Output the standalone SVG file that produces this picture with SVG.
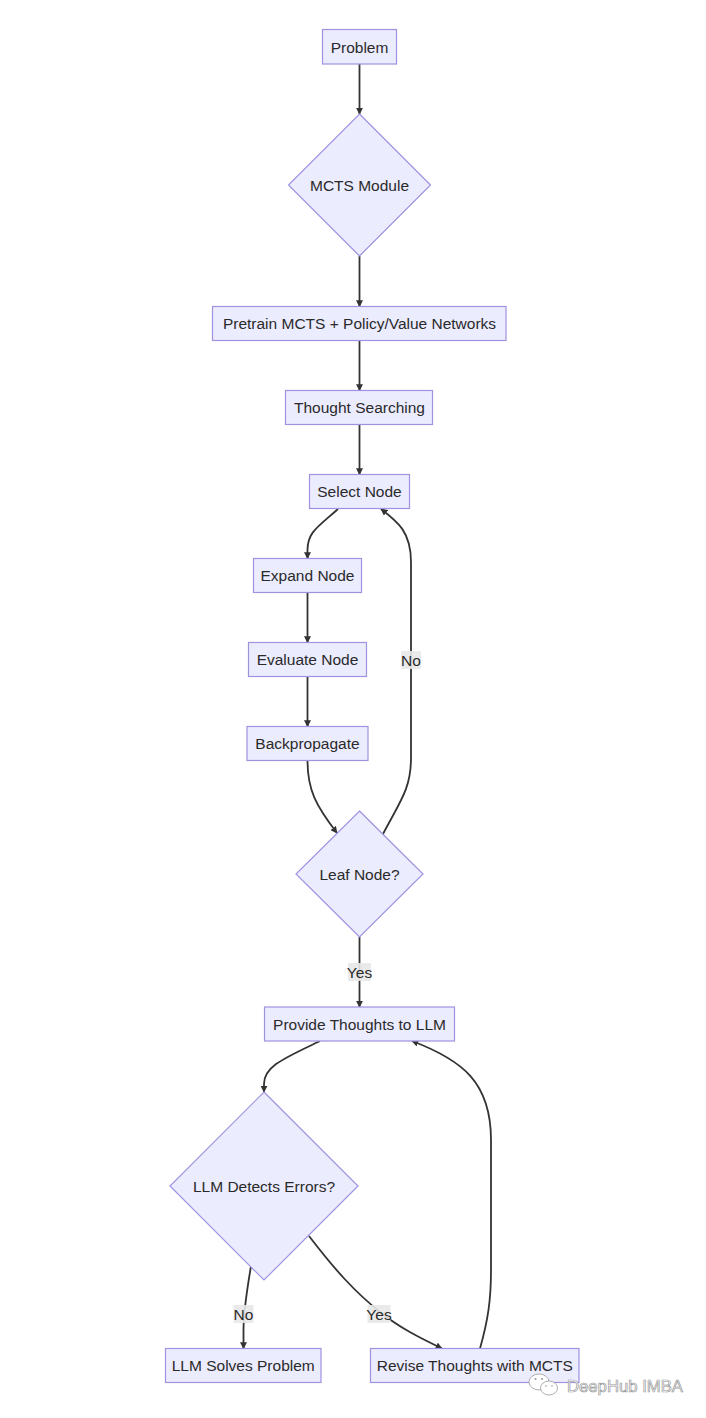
<svg xmlns="http://www.w3.org/2000/svg" width="706" height="1418" viewBox="0 0 706 1418">
<style>
.node rect,.node polygon{fill:#ECECFF;stroke:#9F93E0;stroke-width:1.2}
.node text,.lbl text{font-family:"Liberation Sans",Arial,sans-serif;font-size:15.5px;fill:#2a2a2a;text-anchor:middle;dominant-baseline:central}
.edge{fill:none;stroke:#333;stroke-width:1.8}
.lbl rect{fill:#E8E8E8;opacity:0.9}
.wm{font-family:"Liberation Sans",Arial,sans-serif;font-size:16.7px;fill:#fff;stroke:#9a9a9a;stroke-width:0.7}
</style>
<defs>
<marker id="arr" viewBox="0 0 10 10" refX="9" refY="5" markerWidth="7" markerHeight="7" markerUnits="userSpaceOnUse" orient="auto">
<path d="M0,0 L10,5 L0,10 z" fill="#333"/>
</marker>
</defs>
<rect width="706" height="1418" fill="#fff"/>
<g id="connectors">
<path class="edge" d="M359.5,64 L359.5,114" marker-end="url(#arr)"/>
<path class="edge" d="M359.5,256 L359.5,306.5" marker-end="url(#arr)"/>
<path class="edge" d="M359.5,340.5 L359.5,390.5" marker-end="url(#arr)"/>
<path class="edge" d="M359.5,424.5 L359.5,474.5" marker-end="url(#arr)"/>
<path class="edge" d="M338,509 C318,527 307.5,532 307.5,550 L307.5,558.5" marker-end="url(#arr)"/>
<path class="edge" d="M307.5,592.5 L307.5,642.5" marker-end="url(#arr)"/>
<path class="edge" d="M307.5,676.5 L307.5,726.5" marker-end="url(#arr)"/>
<path class="edge" d="M307.5,760.5 C307.5,790 316,806 337,833" marker-end="url(#arr)"/>
<path class="edge" d="M383,834 C401,800 411,788 411,758 L411,562 C411,532 398,522 381,509" marker-end="url(#arr)"/>
<path class="edge" d="M359.5,937 L359.5,1007" marker-end="url(#arr)"/>
<path class="edge" d="M320,1041 C285,1058 264,1066 264,1084 L264,1092" marker-end="url(#arr)"/>
<path class="edge" d="M480,1348.5 C488,1320 491,1300 491,1270 L491,1140 C491,1082 462,1060 412,1041" marker-end="url(#arr)"/>
<path class="edge" d="M251,1266 C247,1290 243.5,1310 243.5,1330 L243.5,1348.5" marker-end="url(#arr)"/>
<path class="edge" d="M309,1236 C335,1270 355,1292 380,1312 C400,1328 420,1338 442,1348.5" marker-end="url(#arr)"/>
</g>
<g id="edge-labels">
<g class="lbl"><rect x="401" y="651" width="20" height="18"/><text x="411" y="660">No</text></g>
<g class="lbl"><rect x="348" y="963" width="23" height="18"/><text x="359.5" y="972">Yes</text></g>
<g class="lbl"><rect x="233.5" y="1305" width="20" height="18"/><text x="243.5" y="1314">No</text></g>
<g class="lbl"><rect x="367.5" y="1305" width="23" height="18"/><text x="379" y="1314">Yes</text></g>
</g>
<g id="problem" class="node"><rect x="322.5" y="29.5" width="74" height="34.5"/><text x="359.5" y="47">Problem</text></g>
<g id="mcts" class="node"><polygon points="359.5,114 430.5,185 359.5,256 288.5,185"/><text x="359.5" y="185">MCTS Module</text></g>
<g id="pretrain" class="node"><rect x="212.5" y="306.5" width="293.5" height="34"/><text x="359.5" y="323.5">Pretrain MCTS + Policy/Value Networks</text></g>
<g id="thought" class="node"><rect x="285.5" y="390.5" width="147" height="34"/><text x="359.5" y="407.5">Thought Searching</text></g>
<g id="select" class="node"><rect x="309.5" y="474.5" width="100" height="34"/><text x="359.5" y="491.5">Select Node</text></g>
<g id="expand" class="node"><rect x="253.5" y="558.5" width="108" height="34"/><text x="307.5" y="575.5">Expand Node</text></g>
<g id="evaluate" class="node"><rect x="248.5" y="642.5" width="118" height="34"/><text x="307.5" y="659.5">Evaluate Node</text></g>
<g id="backprop" class="node"><rect x="247" y="726.5" width="121" height="34"/><text x="307.5" y="743.5">Backpropagate</text></g>
<g id="leaf" class="node"><polygon points="359.5,811 423,874 359.5,937 296,874"/><text x="359.5" y="874">Leaf Node?</text></g>
<g id="provide" class="node"><rect x="264.5" y="1007" width="190" height="34"/><text x="359.5" y="1024">Provide Thoughts to LLM</text></g>
<g id="detect" class="node"><polygon points="264,1092 358,1186 264,1280 170,1186"/><text x="264" y="1186">LLM Detects Errors?</text></g>
<g id="solves" class="node"><rect x="165.5" y="1348.5" width="155.5" height="34"/><text x="243.25" y="1365.5">LLM Solves Problem</text></g>
<g id="revise" class="node"><rect x="370.5" y="1348.5" width="208.5" height="34"/><text x="474.75" y="1365.5">Revise Thoughts with MCTS</text></g>
<g id="watermark">
<ellipse cx="539" cy="1382" rx="10" ry="8" fill="#fff" stroke="#9a9a9a" stroke-width="0.8"/>
<ellipse cx="549" cy="1388" rx="8.5" ry="7" fill="#fff" stroke="#9a9a9a" stroke-width="0.8"/>
<circle cx="535.5" cy="1379" r="1" fill="#9a9a9a"/>
<circle cx="542" cy="1379" r="1" fill="#9a9a9a"/>
<circle cx="546" cy="1386" r="0.8" fill="#9a9a9a"/>
<circle cx="552" cy="1386" r="0.8" fill="#9a9a9a"/>
<text class="wm" x="567" y="1392">DeepHub IMBA</text>
</g>
</svg>
